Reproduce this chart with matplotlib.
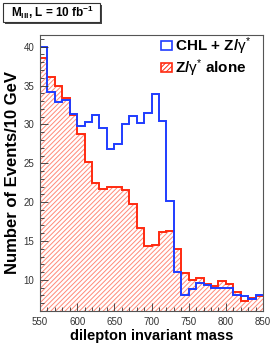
import numpy as np
import matplotlib
matplotlib.use("Agg")
import matplotlib.pyplot as plt
from matplotlib.patches import Patch, Rectangle
from matplotlib.ticker import MultipleLocator

plt.rcParams['font.family'] = ['Liberation Sans', 'DejaVu Sans']
plt.rcParams['mathtext.fontset'] = 'custom'
plt.rcParams['mathtext.rm'] = 'Liberation Sans'
plt.rcParams['mathtext.it'] = 'Liberation Sans:italic'
plt.rcParams['mathtext.bf'] = 'Liberation Sans:bold'
plt.rcParams['hatch.linewidth'] = 0.7

# bin edges (GeV)
bin_edges = np.arange(550, 851, 10)

# CHL + Z/gamma* (blue)
chl_plus_z = [40.0, 34.2, 32.9, 33.1, 31.3, 29.8, 30.3, 31.2, 29.5, 26.9,
              27.5, 30.1, 31.1, 30.2, 31.5, 33.9, 30.5, 20.2, 11.0, 8.1,
              8.8, 9.6, 9.4, 9.0, 9.0, 9.0, 8.0, 7.9, 7.5, 8.0]
# Z/gamma* alone (red)
z_alone = [38.5, 36.1, 35.0, 33.4, 31.25, 28.8, 25.2, 22.5, 21.7, 21.9,
           21.9, 21.6, 19.8, 16.7, 14.3, 14.5, 16.2, 16.3, 14.0, 10.9,
           10.0, 10.3, 9.5, 9.2, 9.8, 9.5, 8.4, 7.3, 7.7, 7.9]

blue = '#1f3cff'
red = '#ff2a10'
hatch_col = '#ff8a78'

fig = plt.figure(figsize=(2.77, 3.46), dpi=100)
ax = fig.add_axes([40/277, 1-311/346, 223/277, 276/346])

ax.stairs(z_alone, bin_edges, fill=True, facecolor='white', edgecolor=hatch_col,
          hatch='///////', linewidth=0, baseline=0)
ax.stairs(z_alone, bin_edges, color=red, linewidth=1.4, baseline=None)
ax.stairs(chl_plus_z, bin_edges, color=blue, linewidth=1.4, baseline=None)

ax.set_xlim(550, 850)
ax.set_ylim(6, 41.5)
ax.xaxis.set_major_locator(MultipleLocator(50))
ax.xaxis.set_minor_locator(MultipleLocator(10))
ax.yaxis.set_major_locator(MultipleLocator(5))
ax.yaxis.set_minor_locator(MultipleLocator(1))
ax.tick_params(which='both', direction='in', labelsize=7, colors='#333333',
               top=False, right=False, pad=4)
ax.tick_params(which='major', length=5.5, width=0.6)
ax.tick_params(which='minor', length=3, width=0.6)
for s in ax.spines.values():
    s.set_color('#555555')
    s.set_linewidth(0.8)

ax.set_xlabel('dilepton invariant mass', fontsize=10.5, fontweight='bold', labelpad=2)
ax.set_ylabel('Number of Events/10 GeV', fontsize=12, fontweight='bold', labelpad=3)

handles = [Patch(facecolor='white', edgecolor=blue, linewidth=1.2),
           Patch(facecolor='white', edgecolor=red, hatch='///////', linewidth=1.2)]
labels = [r'CHL + Z/$\mathrm{\gamma}^{*}$', r'Z/$\mathrm{\gamma}^{*}$ alone']
leg = ax.legend(handles, labels, loc='upper right', frameon=False,
                prop={'weight': 'bold', 'size': 11}, handlelength=0.75,
                handleheight=0.55, handletextpad=0.2, labelspacing=0.0,
                borderaxespad=0.0, bbox_to_anchor=(0.975, 1.02))

# title box with shadow
fig.patches.append(Rectangle((5/277, 1-24/346), 97/277, 19/346, transform=fig.transFigure,
                             facecolor='#444444', edgecolor='none'))
fig.patches.append(Rectangle((3/277, 1-22/346), 97/277, 19/346, transform=fig.transFigure,
                             facecolor='white', edgecolor='#333333', linewidth=0.8))
fig.text(52/277, 1-12.5/346,
         r'$\mathbf{M}_{\mathbf{lll}}$, L = 10 fb$^{\mathbf{-1}}$',
         ha='center', va='center', fontsize=8.5, fontweight='bold')

fig.savefig('out.png', dpi=100)
